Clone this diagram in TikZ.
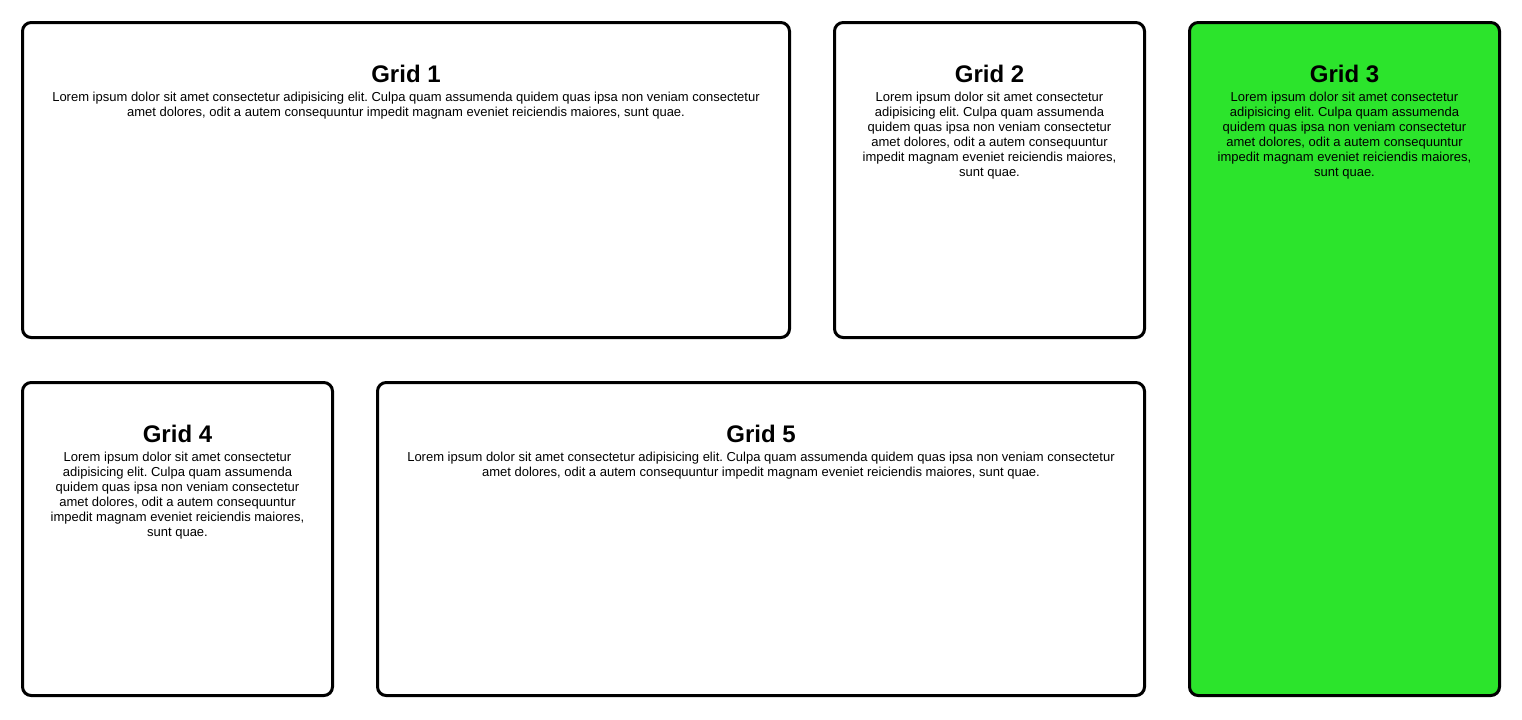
\documentclass[tikz,border=0pt]{standalone}
\usepackage{fontspec}
\setmainfont{Liberation Sans}
\frenchspacing
\definecolor{gridgreen}{HTML}{2CE42C}
\tikzset{
  gridbox/.style={draw=black, line width=2.25pt, rounded corners=6.5pt},
  gtitle/.style={font=\fontsize{18pt}{21pt}\selectfont\bfseries, inner sep=0pt, anchor=base},
  gbody/.style={font=\fontsize{9.75pt}{11.25pt}\selectfont\frenchspacing, align=center, inner sep=0pt, anchor=base},
}
\newcommand{\lorwide}{Lorem ipsum dolor sit amet consectetur adipisicing elit. Culpa quam assumenda quidem quas ipsa non veniam consectetur\\amet dolores, odit a autem consequuntur impedit magnam eveniet reiciendis maiores, sunt quae.}
\newcommand{\lornarrow}{Lorem ipsum dolor sit amet consectetur\\adipisicing elit. Culpa quam assumenda\\quidem quas ipsa non veniam consectetur\\amet dolores, odit a autem consequuntur\\impedit magnam eveniet reiciendis maiores,\\sunt quae.}
\begin{document}
\begin{tikzpicture}[x=0.75pt, y=-0.75pt]
\useasboundingbox (0,0) rectangle (1522,719);
% boxes
\draw[gridbox] (22.5,22.5) rectangle (789.5,337.5);
\draw[gridbox] (834.5,22.5) rectangle (1144.5,337.5);
\draw[gridbox, fill=gridgreen] (1189.5,22.5) rectangle (1499.5,695.5);
\draw[gridbox] (22.5,382.5) rectangle (332.5,695.5);
\draw[gridbox] (377.5,382.5) rectangle (1144.5,695.5);
% titles
\node[gtitle] (t1) at (406,82.7) {Grid 1};
\node[gtitle] (t2) at (989.5,82.7) {Grid 2};
\node[gtitle] (t3) at (1344.5,82.7) {Grid 3};
\node[gtitle] (t4) at (177.5,442.7) {Grid 4};
\node[gtitle] (t5) at (761,442.7) {Grid 5};
% bodies (base anchor = baseline of the last line)
\node[gbody] (b1) at (406,116) {\lorwide};
\node[gbody] (b2) at (989.5,176) {\lornarrow};
\node[gbody] (b3) at (1344.5,176) {\lornarrow};
\node[gbody] (b4) at (177.5,536) {\lornarrow};
\node[gbody] (b5) at (761,476) {\lorwide};
\end{tikzpicture}
\end{document}
